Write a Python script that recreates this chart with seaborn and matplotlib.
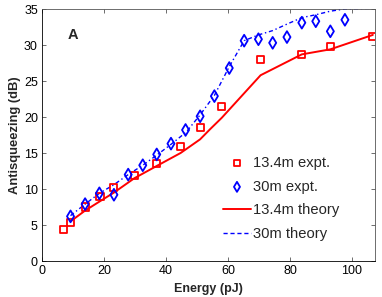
import matplotlib
matplotlib.use("Agg")
import matplotlib.pyplot as plt
import seaborn as sns
import pandas as pd

# 13.4m experiment
red_x = [6.9, 9.2, 13.9, 18.7, 23.2, 29.8, 37.0, 44.7, 51.0, 58.0, 70.5, 83.8, 93.0, 106.7]
red_y = [4.4, 5.3, 7.5, 8.9, 10.2, 11.9, 13.6, 15.9, 18.6, 21.5, 28.0, 28.7, 29.8, 31.2]
# 30m experiment
blue_x = [9.2, 13.9, 18.5, 23.2, 27.8, 32.5, 37.0, 41.6, 46.3, 51.0, 55.6, 60.4, 65.2, 69.8, 74.4, 79.0, 83.8, 88.3, 93.0, 97.7]
blue_y = [6.2, 7.9, 9.4, 9.2, 12.0, 13.3, 14.8, 16.3, 18.2, 20.1, 22.9, 26.8, 30.6, 30.8, 30.3, 31.1, 33.1, 33.3, 31.9, 33.5]
# 13.4m theory
rt_x = [9.2, 13.9, 18.7, 23.2, 29.8, 37.0, 44.7, 51.0, 54.2, 58.0, 70.5, 83.8, 93.0, 106.7]
rt_y = [5.5, 7.0, 8.3, 9.5, 11.5, 13.2, 15.0, 16.9, 18.3, 19.9, 25.8, 28.7, 29.4, 31.4]
# 30m theory
bt_x = [9.2, 13.9, 18.5, 23.2, 27.8, 32.5, 37.0, 41.6, 46.5, 51.0, 55.6, 60.4, 65.2, 69.8, 74.4, 79.0, 83.8, 88.3, 93.0, 97.7, 107.0]
bt_y = [6.3, 7.9, 9.4, 10.6, 12.0, 13.3, 14.7, 16.2, 17.9, 20.3, 23.0, 27.0, 30.6, 31.4, 32.0, 32.9, 33.8, 34.2, 34.7, 35.0, 35.1]

sns.set_style("ticks")
plt.rcParams['font.family'] = ['Liberation Sans', 'DejaVu Sans']

fig = plt.figure(figsize=(3.82, 2.97), dpi=100)
ax = fig.add_axes([42/382, 1-261/297, (375-42)/382, (261-9)/297])

sns.scatterplot(x=red_x, y=red_y, ax=ax, marker='s', s=26, facecolor='none',
                edgecolor='#ff0000', linewidth=1.3, label='13.4m expt.', zorder=3)
sns.scatterplot(x=blue_x, y=blue_y, ax=ax, marker='d', s=36, facecolor='none',
                edgecolor='#0000ff', linewidth=1.3, label='30m expt.', zorder=3)
sns.lineplot(x=rt_x, y=rt_y, ax=ax, color='#ff0000', linewidth=1.4, label='13.4m theory', sort=False)
sns.lineplot(x=bt_x, y=bt_y, ax=ax, color='#0000ff', linewidth=1.0, label='30m theory', sort=False,
             dashes=False, linestyle=(0, (3, 2, 1, 2)))

ax.set_xlim(0, 107.4)
ax.set_ylim(0, 35)
ax.set_xticks([0, 20, 40, 60, 80, 100])
ax.set_yticks([0, 5, 10, 15, 20, 25, 30, 35])
ax.tick_params(direction='in', length=3, labelsize=9, top=True, right=True, width=0.6,
               colors='#555555', labelcolor='black', pad=3)
for s in ax.spines.values():
    s.set_linewidth(0.6)
    s.set_color('#555555')
ax.spines['bottom'].set_color('black')
ax.spines['left'].set_color('black')

ax.set_xlabel('Energy (pJ)', fontsize=9, fontweight='bold', labelpad=4)
ax.set_ylabel('Antisqueezing (dB)', fontsize=9.4, fontweight='bold', labelpad=2)
ax.text(10, 31.4, 'A', fontsize=10.5, fontweight='bold', ha='center', va='center')

leg = ax.legend(loc='center left', bbox_to_anchor=(0.5435, 0.248), frameon=False, fontsize=10.6,
                handlelength=1.9, handletextpad=0.15, labelspacing=0.65, borderpad=0,
                borderaxespad=0)
leg.legend_handles[0].set_sizes([18])
leg.legend_handles[1].set_sizes([26])
leg.legend_handles[3].set_linestyle((0, (3, 2)))

fig.savefig('out.png', dpi=100)
